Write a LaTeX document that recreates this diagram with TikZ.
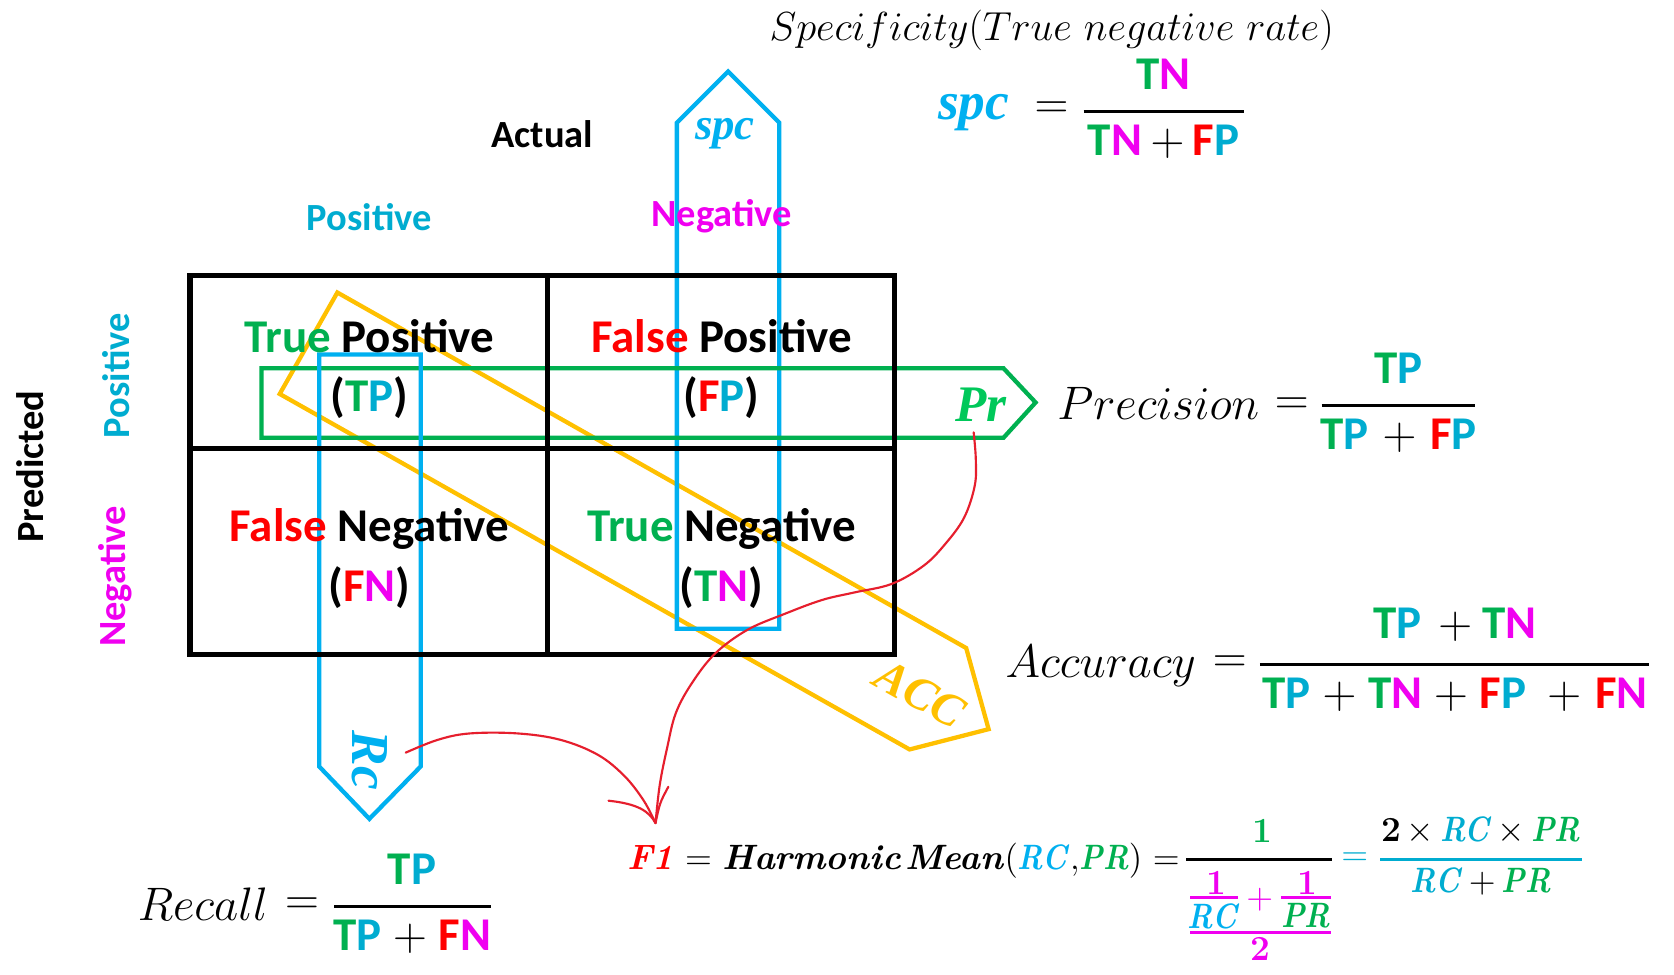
\RequirePackage{fix-cm}
\documentclass[tikz,border=0pt]{standalone}
\usepackage{amsmath}
\usepackage{fontspec}
\setsansfont{Carlito}
\newfontfamily\lserif{Liberation Serif}
\definecolor{tgreen}{RGB}{0,176,80}
\definecolor{tcyan}{RGB}{0,172,208}
\definecolor{acyan}{RGB}{0,176,240}
\definecolor{tmag}{RGB}{240,0,240}
\definecolor{tred}{RGB}{255,0,0}
\definecolor{tyel}{RGB}{255,192,0}
\definecolor{prgreen}{RGB}{0,200,90}
\definecolor{rline}{RGB}{230,30,45}
\newcommand{\cTP}{\textcolor{tgreen}{T}\textcolor{tcyan}{P}}
\newcommand{\cTN}{\textcolor{tgreen}{T}\textcolor{tmag}{N}}
\newcommand{\cFP}{\textcolor{tred}{F}\textcolor{tcyan}{P}}
\newcommand{\cFN}{\textcolor{tred}{F}\textcolor{tmag}{N}}
\newcommand{\mplus}[1][0.22em]{\hspace{#1}$+$\hspace{#1}}
\newcommand{\bi}[1]{\textbf{\textit{#1}}}
\newcommand{\lbi}[1]{{\lserif\bfseries\itshape #1}}
\newcommand{\nar}[1]{\scalebox{0.85}[1]{#1}}
\begin{document}
\begin{tikzpicture}[x=0.5pt,y=-0.5pt,
  lab/.style={font=\sffamily\bfseries\fontsize{18}{20}\selectfont, inner sep=0},
  cell/.style={font=\sffamily\bfseries\fontsize{22}{26}\selectfont, inner sep=0, anchor=base},
  fracpart/.style={font=\sffamily\bfseries\fontsize{22}{26}\selectfont, inner sep=0},
  mth/.style={font=\fontsize{22}{26}\selectfont, inner sep=0},
  fone/.style={font=\fontsize{16.5}{20}\selectfont, inner sep=0},
  gridline/.style={line width=2.5pt, black},
  band/.style={line width=2pt, line join=miter},
  barline/.style={line width=1.4pt},
  redc/.style={draw=rline, line width=1pt, line cap=round, line join=round}]
\fill[white] (0,0) rectangle (1568,913);
\useasboundingbox (0,0) rectangle (1568,913);

% coloured bands
\draw[band, draw=tyel] (316,274) -- (905,607) -- (926,683) -- (852,702) -- (262,369) -- cycle;
\draw[band, draw=acyan] (634,589) -- (634,115) -- (682,67) -- (730,115) -- (730,589) -- cycle;
\draw[band, draw=tgreen] (245,345) -- (940,345) -- (970,377) -- (940,410) -- (245,410) -- cycle;
\draw[band, draw=acyan] (299,332) -- (394,332) -- (394,718) -- (346,767) -- (299,718) -- cycle;

% matrix grid
\draw[gridline] (178,258) rectangle (838,613);
\draw[gridline] (513,258) -- (513,613);
\draw[gridline] (178,420) -- (838,420);

% band labels
\node[font=\fontsize{21}{22}\selectfont, text=acyan, inner sep=0] (spclab) at (679,125) {\lbi{spc}};
\node[font=\fontsize{24}{26}\selectfont, text=prgreen, inner sep=0] (prlab) at (919,379) {\lbi{Pr}};
\node[font=\fontsize{25}{26}\selectfont, text=acyan, inner sep=0, rotate=-90] (rclab) at (346,712) {\lbi{Rc}};
\node[font=\fontsize{22}{24}\selectfont, text=tyel, inner sep=0, rotate=-29.5] (acclab) at (862,650) {\lbi{ACC}};

% headers
\node[lab] (actual) at (508,126) {Actual};
\node[lab, text=tcyan] (apos) at (346,203) {Positive};
\node[lab, text=tmag] (aneg) at (676,203) {Negative};
\node[lab, rotate=90] (pred) at (28,437) {Predicted};
\node[lab, rotate=90, text=tcyan] (ppos) at (109,352) {Positive};
\node[lab, rotate=90, text=tmag] (pneg) at (108,540) {Negative};

% cells
\node[cell] (c11a) at (346,330) {\textcolor{tgreen}{True} Positive};
\node[cell] (c11b) at (346,385) {(\cTP)};
\node[cell] (c12a) at (676,330) {\textcolor{tred}{False} Positive};
\node[cell] (c12b) at (676,385) {(\cFP)};
\node[cell] (c21a) at (346,507) {\textcolor{tred}{False} Negative};
\node[cell] (c21b) at (346,563) {(\cFN)};
\node[cell] (c22a) at (676,507) {\textcolor{tgreen}{True} Negative};
\node[cell] (c22b) at (676,563) {(\cTN)};

% specificity
\node[font=\fontsize{19}{22}\selectfont, inner sep=0] (spect) at (985,28) {$Specificity(True\ negative\ rate)$};
\node[font=\fontsize{25}{26}\selectfont, text=acyan, inner sep=0, anchor=base] (spcf) at (912,112) {\lbi{spc}};
\node[mth] (spceq) at (985,103) {$=$};
\draw[barline] (1015,104) -- (1165,104);
\node[fracpart] (spcn) at (1090,70) {\cTN};
\node[fracpart] (spcd) at (1090,133) {\cTN\mplus[0.18em]\cFP};

% precision
\node[mth, anchor=base] (prect) at (1085,393) {$Precision$};
\node[mth] (preceq) at (1210,380) {$=$};
\draw[barline] (1238,380) -- (1382,380);
\node[fracpart] (precn) at (1310,345) {\cTP};
\node[fracpart] (precd) at (1310,408) {\cTP\mplus[0.3em]\cFP};

% accuracy
\node[mth, anchor=base] (acct) at (1031,635) {$Accuracy$};
\node[mth] (acceq) at (1152,622) {$=$};
\draw[barline] (1180,622) -- (1545,622);
\node[fracpart] (accn) at (1363,585) {\cTP\hspace{0.35em}$+$\hspace{0.22em}\cTN};
\node[fracpart] (accd) at (1363,651) {\cTP\mplus[0.25em]\cTN\mplus[0.25em]\cFP\hspace{0.45em}$+$\hspace{0.3em}\cFN};

% recall
\node[mth, anchor=base] (rect) at (190,862) {$Recall$};
\node[mth] (receq) at (283,849) {$=$};
\draw[barline] (313,849) -- (460,849);
\node[fracpart] (recn) at (386,814) {\cTP};
\node[fracpart] (recd) at (386,877) {\cTP\mplus[0.25em]\cFN};

% F1
\node[fone, anchor=base west, text=tred] (f1) at (587,814) {\bi{F1}};
\node[fone, anchor=base west] (hm) at ([xshift=5pt]f1.base east) {$=$\hspace{0.3em}\bi{Harmonic}\hspace{0.12em}\bi{Mean}$($\nar{\textcolor{acyan}{\bi{RC}}}$,$\nar{\textcolor{tgreen}{\bi{PR}}}$)$\hspace{0.3em}$=$};
\draw[barline] (1111,805) -- (1248,805);
\node[fone, text=tgreen] (fn1) at (1182,778) {\textbf{1}};
\node[fone, text=tmag] (fi1) at (1139,827) {\textbf{1}};
\draw[barline, draw=tmag] (1115,841) -- (1160,841);
\node[fone, text=acyan] (fi2) at (1137,858) {\nar{\bi{RC}}};
\node[fone, text=tmag] (fplus) at (1180,843) {$+$};
\node[fone, text=tmag] (fi3) at (1225,827) {\textbf{1}};
\draw[barline, draw=tmag] (1200,841) -- (1247,841);
\node[fone, text=tgreen] (fi4) at (1223,858) {\nar{\bi{PR}}};
\draw[barline, draw=tmag] (1115,873) -- (1247,873);
\node[fone, text=tmag] (fi5) at (1181,889) {\textbf{2}};
\node[fone, text=tcyan] (feq2) at (1269,805) {$=$};
\draw[barline, draw=tcyan] (1293,805) -- (1482,805);
\node[fone] (fn2) at (1387,778) {\textbf{2}$\,\times\,$\nar{\textcolor{tcyan}{\bi{RC}}}$\,\times\,$\nar{\textcolor{tgreen}{\bi{PR}}}};
\node[fone] (fd2) at (1387,826) {\nar{\textcolor{tcyan}{\bi{RC}}}$\,+\,$\nar{\textcolor{tgreen}{\bi{PR}}}};

% red hand-drawn connectors
\coordinate (f1tip) at (614,771);
\coordinate (prstart) at (912,405);
\coordinate (rcstart) at (380,705);
\draw[redc] plot[smooth, tension=0.6] coordinates {(prstart) (914,430) (913,455) (903,485) (885,510) (865,530) (835,547) (800,555) (770,562) (735,575) (700,590) (670,612) (648,640) (633,668) (625,700) (618,735) (f1tip)};
\draw[redc] plot[smooth, tension=0.6] coordinates {(rcstart) (410,693) (440,687) (485,687) (525,693) (560,707) (585,727) (603,750) (f1tip)};
\draw[redc] (570,750) .. controls (598,753) and (608,760) .. (f1tip);
\draw[redc] (626,737) .. controls (618,752) .. (f1tip);
\end{tikzpicture}
\end{document}
